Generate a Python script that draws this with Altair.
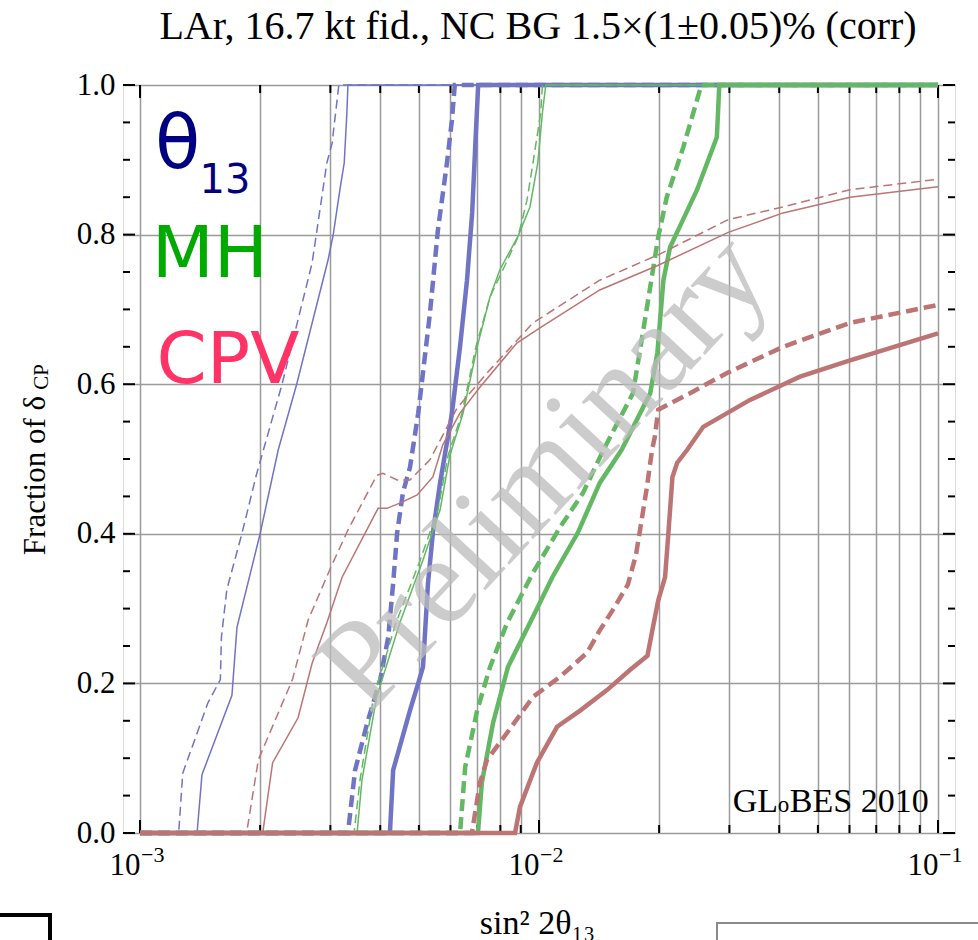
import altair as alt
import pandas as pd

# ---------------- data (x = sin^2 2theta13, y = fraction of delta_CP) ----------------
# theta13 (blue)
th_thin_solid_x = [1.0e-3, 1.39e-3, 1.43e-3, 1.70e-3, 1.75e-3, 2.00e-3, 2.22e-3, 2.47e-3, 2.96e-3, 3.05e-3, 3.17e-3, 3.25e-3, 3.30e-3, 3.32e-3, 0.1]
th_thin_solid_y = [0, 0, 0.078, 0.184, 0.275, 0.40, 0.512, 0.60, 0.766, 0.80, 0.86, 0.896, 0.963, 1.0, 1.0]
th_thin_dash_x = [1.0e-3, 1.25e-3, 1.28e-3, 1.48e-3, 1.59e-3, 1.60e-3, 1.65e-3, 1.80e-3, 1.96e-3, 2.27e-3, 2.70e-3, 2.94e-3, 3.03e-3, 3.15e-3, 0.1]
th_thin_dash_y = [0, 0, 0.08, 0.174, 0.205, 0.262, 0.325, 0.40, 0.48, 0.60, 0.762, 0.896, 0.922, 1.0, 1.0]
th_thick_dash_x = [1.0e-3, 3.32e-3, 3.46e-3, 3.71e-3, 4.00e-3, 4.19e-3, 4.31e-3, 4.41e-3, 4.56e-3, 4.75e-3, 4.98e-3, 5.33e-3, 5.58e-3, 5.88e-3, 6.05e-3, 6.15e-3, 0.1]
th_thick_dash_y = [0, 0, 0.084, 0.147, 0.205, 0.262, 0.334, 0.401, 0.455, 0.489, 0.561, 0.695, 0.806, 0.896, 0.953, 1.0, 1.0]
th_thick_solid_x = [1.0e-3, 4.23e-3, 4.31e-3, 4.75e-3, 4.98e-3, 5.12e-3, 5.27e-3, 5.42e-3, 5.65e-3, 6.05e-3, 6.34e-3, 6.60e-3, 6.80e-3, 6.92e-3, 7.04e-3, 0.1]
th_thick_solid_y = [0, 0, 0.084, 0.164, 0.20, 0.222, 0.334, 0.401, 0.468, 0.561, 0.650, 0.739, 0.829, 0.917, 1.0, 1.0]

# mass hierarchy (green)
mh_thin_solid_x = [1.0e-3, 3.50e-3, 3.60e-3, 3.92e-3, 4.48e-3, 5.12e-3, 5.65e-3, 5.98e-3, 6.45e-3, 7.00e-3, 7.54e-3, 7.98e-3, 8.86e-3, 9.49e-3, 9.93e-3, 1.02e-2, 1.04e-2, 0.1]
mh_thin_solid_y = [0, 0, 0.071, 0.182, 0.281, 0.365, 0.432, 0.505, 0.561, 0.650, 0.717, 0.753, 0.798, 0.837, 0.896, 0.963, 1.0, 1.0]
mh_thin_dash_x = [1.0e-3, 3.44e-3, 3.56e-3, 3.85e-3, 4.38e-3, 5.04e-3, 5.58e-3, 5.92e-3, 6.41e-3, 6.95e-3, 7.54e-3, 8.22e-3, 8.86e-3, 9.33e-3, 9.66e-3, 1.01e-2, 1.02e-2, 0.1]
mh_thin_dash_y = [0, 0, 0.071, 0.182, 0.281, 0.365, 0.432, 0.505, 0.561, 0.650, 0.717, 0.759, 0.797, 0.846, 0.896, 0.963, 1.0, 1.0]
mh_thick_dash_x = [1.0e-3, 6.34e-3, 6.53e-3, 7.00e-3, 7.54e-3, 8.32e-3, 9.66e-3, 1.13e-2, 1.29e-2, 1.45e-2, 1.72e-2, 1.82e-2, 1.90e-2, 1.99e-2, 2.09e-2, 2.30e-2, 2.53e-2, 2.56e-2, 0.1]
mh_thick_dash_y = [0, 0, 0.088, 0.164, 0.222, 0.281, 0.348, 0.409, 0.455, 0.512, 0.588, 0.668, 0.730, 0.797, 0.850, 0.917, 0.993, 1.0, 1.0]
mh_thick_solid_x = [1.0e-3, 7.03e-3, 7.19e-3, 7.67e-3, 8.36e-3, 9.66e-3, 1.08e-2, 1.25e-2, 1.42e-2, 1.61e-2, 1.90e-2, 1.98e-2, 2.05e-2, 2.13e-2, 2.25e-2, 2.49e-2, 2.79e-2, 2.81e-2, 2.83e-2, 0.1]
mh_thick_solid_y = [0, 0, 0.067, 0.147, 0.222, 0.289, 0.342, 0.401, 0.468, 0.512, 0.588, 0.642, 0.739, 0.783, 0.810, 0.860, 0.930, 0.963, 1.0, 1.0]

# CP violation (red)
cp_thin_solid_x = [1.0e-3, 2.03e-3, 2.15e-3, 2.49e-3, 2.70e-3, 2.94e-3, 3.21e-3, 3.95e-3, 4.16e-3, 4.48e-3, 4.95e-3, 5.42e-3, 5.74e-3, 6.33e-3, 7.11e-3, 8.80e-3, 1.01e-2, 1.42e-2, 1.99e-2, 2.98e-2, 4.09e-2, 6.02e-2, 0.1]
cp_thin_solid_y = [0, 0, 0.094, 0.154, 0.227, 0.281, 0.342, 0.434, 0.434, 0.441, 0.452, 0.476, 0.519, 0.561, 0.596, 0.655, 0.676, 0.726, 0.759, 0.803, 0.829, 0.850, 0.864]
cp_thin_dash_x = [1.0e-3, 1.85e-3, 1.98e-3, 2.41e-3, 2.64e-3, 2.99e-3, 3.32e-3, 3.92e-3, 4.06e-3, 4.41e-3, 4.75e-3, 5.33e-3, 6.23e-3, 7.41e-3, 9.66e-3, 1.42e-2, 1.99e-2, 2.98e-2, 4.09e-2, 6.02e-2, 0.1]
cp_thin_dash_y = [0, 0, 0.098, 0.205, 0.285, 0.352, 0.405, 0.478, 0.481, 0.472, 0.472, 0.499, 0.568, 0.615, 0.682, 0.739, 0.773, 0.820, 0.837, 0.860, 0.874]
cp_thick_dash_x = [1.0e-3, 6.79e-3, 7.11e-3, 7.41e-3, 8.32e-3, 9.66e-3, 1.13e-2, 1.32e-2, 1.42e-2, 1.53e-2, 1.67e-2, 1.75e-2, 1.80e-2, 1.86e-2, 1.92e-2, 1.95e-2, 1.99e-2, 2.39e-2, 2.96e-2, 4.09e-2, 6.02e-2, 0.1]
cp_thick_dash_y = [0, 0, 0.067, 0.098, 0.134, 0.182, 0.209, 0.241, 0.271, 0.298, 0.332, 0.372, 0.412, 0.459, 0.512, 0.529, 0.566, 0.588, 0.615, 0.650, 0.682, 0.706]
cp_thick_solid_x = [1.0e-3, 8.71e-3, 8.96e-3, 9.88e-3, 1.11e-2, 1.27e-2, 1.48e-2, 1.69e-2, 1.87e-2, 1.93e-2, 1.99e-2, 2.07e-2, 2.11e-2, 2.16e-2, 2.22e-2, 2.35e-2, 2.58e-2, 3.38e-2, 4.51e-2, 6.02e-2, 0.1]
cp_thick_solid_y = [0, 0, 0.035, 0.094, 0.142, 0.164, 0.191, 0.218, 0.237, 0.275, 0.311, 0.342, 0.401, 0.476, 0.495, 0.512, 0.543, 0.579, 0.610, 0.632, 0.668]

# axis ticks / labels
x_tick_values = [1e-3, 2e-3, 3e-3, 4e-3, 5e-3, 6e-3, 7e-3, 8e-3, 9e-3,
                 1e-2, 2e-2, 3e-2, 4e-2, 5e-2, 6e-2, 7e-2, 8e-2, 9e-2, 1e-1]
x_decades = [1e-3, 1e-2, 1e-1]
x_exponents = ["\u22123", "\u22122", "\u22121"]
y_tick_values = [0.0, 0.2, 0.4, 0.6, 0.8, 1.0]
y_minor_values = [0.05, 0.1, 0.15, 0.25, 0.3, 0.35, 0.45, 0.5, 0.55, 0.65, 0.7, 0.75, 0.85, 0.9, 0.95]
x_domain = [9.066e-4, 0.1103]

# annotation anchors (data coordinates)
lbl_theta = (1.09e-3, 0.889)
lbl_13 = (1.41e-3, 0.856)
lbl_mh = (1.07e-3, 0.743)
lbl_cpv = (1.10e-3, 0.602)
lbl_prelim = (1.03e-2, 0.483)
lbl_globes = (3.06e-2, 0.028)

TITLE = "LAr, 16.7 kt fid., NC BG 1.5\u00d7(1\u00b10.05)% (corr)"

BLUE = "#6f74c4"
GREEN = "#63b863"
RED = "#bd7474"
SERIF = "Liberation Serif"
SANS = "DejaVu Sans"

W, H = 832, 748

curves = [
    ("th_ts", th_thin_solid_x, th_thin_solid_y, BLUE, 1.5, None),
    ("th_td", th_thin_dash_x, th_thin_dash_y, BLUE, 1.5, [9, 5]),
    ("th_kd", th_thick_dash_x, th_thick_dash_y, BLUE, 4.5, [12, 6]),
    ("th_ks", th_thick_solid_x, th_thick_solid_y, BLUE, 4.5, None),
    ("mh_ts", mh_thin_solid_x, mh_thin_solid_y, GREEN, 1.5, None),
    ("mh_td", mh_thin_dash_x, mh_thin_dash_y, GREEN, 1.5, [9, 5]),
    ("mh_kd", mh_thick_dash_x, mh_thick_dash_y, GREEN, 4.5, [12, 6]),
    ("mh_ks", mh_thick_solid_x, mh_thick_solid_y, GREEN, 4.5, None),
    ("cp_ts", cp_thin_solid_x, cp_thin_solid_y, RED, 1.5, None),
    ("cp_td", cp_thin_dash_x, cp_thin_dash_y, RED, 1.5, [9, 5]),
    ("cp_kd", cp_thick_dash_x, cp_thick_dash_y, RED, 4.5, [12, 6]),
    ("cp_ks", cp_thick_solid_x, cp_thick_solid_y, RED, 4.5, None),
]

rows = []
for name, xs, ys, *_ in curves:
    for i, (xv, yv) in enumerate(zip(xs, ys)):
        rows.append({"curve": name, "x": xv, "y": yv, "i": i})
df = pd.DataFrame(rows)

xscale = alt.Scale(type="log", domain=x_domain, nice=False)
yscale = alt.Scale(domain=[0, 1], nice=False, zero=False)

label_expr = ("abs(log(datum.value)/LN10 - round(log(datum.value)/LN10)) < 0.001 ? '10' : ''")

X = alt.X("x:Q", scale=xscale, axis=alt.Axis(
    values=x_tick_values, labelExpr=label_expr, grid=True, gridColor="#9a9a9a", gridWidth=1.5,
    ticks=False, domain=False, labelFont=SERIF, labelFontSize=31, labelColor="black",
    labelAlign="right", labelBaseline="top", labelPadding=17, labelOverlap=False, labelFlush=False,
    labelBound=False,
    title="sin\u00b2 2\u03b8\u2081\u2083", titleFont=SERIF, titleFontSize=34, titleFontWeight="normal",
    titleColor="black", titleX=W / 2 - 2, titleY=90, titleAlign="center", titleBaseline="middle"))
Y = alt.Y("y:Q", scale=yscale, axis=alt.Axis(
    values=y_tick_values, format=".1f", grid=True, gridColor="#9a9a9a", gridWidth=1.5,
    ticks=False, domain=False, labelFont=SERIF, labelFontSize=31, labelColor="black",
    labelPadding=8, labelOverlap=False, labelFlush=False, labelBound=False,
    title="Fraction of \u03b4", titleFont=SERIF, titleFontSize=31, titleFontWeight="normal",
    titleColor="black", titleX=-88, titleY=390, titleAngle=270, titleAlign="center",
    titleBaseline="middle"))

layers = []

# inward frame ticks
ymin_df = pd.DataFrame({"y": y_minor_values})
ymaj_df = pd.DataFrame({"y": y_tick_values})
xall_df = pd.DataFrame({"x": x_tick_values})
xdec_df = pd.DataFrame({"x": x_decades})
tick_style = dict(color="black", strokeWidth=2)
layers.append(alt.Chart(ymin_df).mark_rule(**tick_style).encode(y=Y, x=alt.value(0), x2=alt.value(7)))
layers.append(alt.Chart(ymin_df).mark_rule(**tick_style).encode(y=Y, x=alt.value(W - 7), x2=alt.value(W)))
layers.append(alt.Chart(ymaj_df).mark_rule(**tick_style).encode(y=Y, x=alt.value(0), x2=alt.value(12)))
layers.append(alt.Chart(ymaj_df).mark_rule(**tick_style).encode(y=Y, x=alt.value(W - 12), x2=alt.value(W)))
layers.append(alt.Chart(xall_df).mark_rule(**tick_style).encode(x=X, y=alt.value(0), y2=alt.value(8)))
layers.append(alt.Chart(xall_df).mark_rule(**tick_style).encode(x=X, y=alt.value(H - 8), y2=alt.value(H)))
layers.append(alt.Chart(xdec_df).mark_rule(**tick_style).encode(x=X, y=alt.value(0), y2=alt.value(13)))
layers.append(alt.Chart(xdec_df).mark_rule(**tick_style).encode(x=X, y=alt.value(H - 13), y2=alt.value(H)))

# curves
for name, xs, ys, color, width, dash in curves:
    kw = dict(color=color, strokeWidth=width, clip=False)
    if dash:
        kw["strokeDash"] = dash
    layers.append(alt.Chart(df).transform_filter(alt.datum.curve == name)
                  .mark_line(**kw).encode(x=X, y=Y, order="i:Q"))


def pt(p):
    return pd.DataFrame({"x": [p[0]], "y": [p[1]]})


# watermark
layers.append(alt.Chart(pt(lbl_prelim)).mark_text(
    text="Preliminary", font=SERIF, fontSize=126, color="#bcbcbc", opacity=0.75,
    angle=313, align="center", baseline="middle").encode(x=X, y=Y))

# big labels
layers.append(alt.Chart(pt(lbl_theta)).mark_text(
    text="\u03b8", font=SANS, fontSize=74, color="#000080", align="left",
    baseline="alphabetic").encode(x=X, y=Y))
layers.append(alt.Chart(pt(lbl_13)).mark_text(
    text="13", font=SANS, fontSize=40, color="#000080", align="left",
    baseline="alphabetic").encode(x=X, y=Y))
layers.append(alt.Chart(pt(lbl_mh)).mark_text(
    text="MH", font=SANS, fontSize=72, color="#00aa00", align="left",
    baseline="alphabetic").encode(x=X, y=Y))
layers.append(alt.Chart(pt(lbl_cpv)).mark_text(
    text="CPV", font=SANS, fontSize=72, color="#ff3366", align="left",
    baseline="alphabetic").encode(x=X, y=Y))

# GLoBES 2010
layers.append(alt.Chart(pt(lbl_globes)).mark_text(
    text="GL", font=SERIF, fontSize=34, color="black", align="left",
    baseline="alphabetic").encode(x=X, y=Y))
layers.append(alt.Chart(pt(lbl_globes)).mark_text(
    text="o", font=SERIF, fontSize=23, color="black", align="left", dx=45,
    baseline="alphabetic").encode(x=X, y=Y))
layers.append(alt.Chart(pt(lbl_globes)).mark_text(
    text="BES 2010", font=SERIF, fontSize=34, color="black", align="left", dx=57,
    baseline="alphabetic").encode(x=X, y=Y))

# exponents of x tick labels
exp_df = pd.DataFrame({"x": x_decades, "t": x_exponents})
layers.append(alt.Chart(exp_df).mark_text(
    font=SERIF, fontSize=22, color="black", align="left", dx=1,
    baseline="alphabetic").encode(x=X, y=alt.value(777), text="t:N"))

# subscript CP of the y title
layers.append(alt.Chart(pt(lbl_prelim)).mark_text(
    text="CP", font=SERIF, fontSize=21, color="black", align="center", baseline="middle",
    angle=270).encode(x=alt.value(-81), y=alt.value(292)))

# chart title (as text so that it sits exactly above the frame)
layers.append(alt.Chart(pt(lbl_prelim)).mark_text(
    text=TITLE, font=SERIF, fontSize=40, color="black", align="center",
    baseline="alphabetic").encode(x=alt.value(W / 2 - 1), y=alt.value(-46)))

# screenshot artefacts at the bottom
layers.append(alt.Chart(pt(lbl_prelim)).mark_rule(color="black", strokeWidth=4).encode(
    x=alt.value(-125), x2=alt.value(-73), y=alt.value(830)))
layers.append(alt.Chart(pt(lbl_prelim)).mark_rule(color="black", strokeWidth=4).encode(
    x=alt.value(-73), y=alt.value(828), y2=alt.value(870)))
layers.append(alt.Chart(pt(lbl_prelim)).mark_rect(fill="white", stroke="#8a8a8a", strokeWidth=2).encode(
    x=alt.value(594), x2=alt.value(880), y=alt.value(838), y2=alt.value(880)))

chart = alt.layer(*layers).properties(
    width=W, height=H,
    padding={"left": 123, "top": 85, "right": 23, "bottom": 107},
    autosize=alt.AutoSizeParams(type="none"),
).configure_view(stroke="black", strokeWidth=2).configure(background="white")

chart.save("out.html", embed_options={"renderer": "svg", "actions": False})
